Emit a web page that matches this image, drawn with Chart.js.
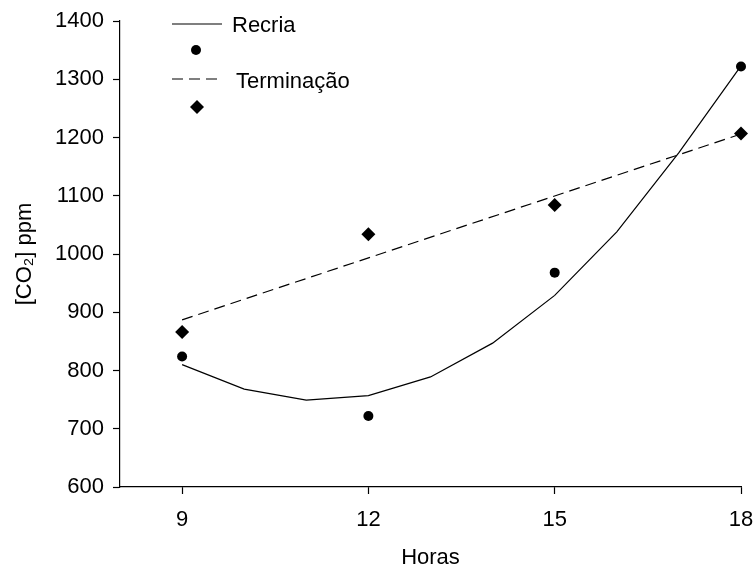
<!DOCTYPE html>
<html>
<head>
<meta charset="utf-8">
<title>CO2 ppm x Horas</title>
<script src="https://cdn.jsdelivr.net/npm/chart.js@4/dist/chart.umd.min.js"></script>
<style>
  html, body { margin: 0; padding: 0; background: #fff; }
  #wrap { width: 756px; height: 567px; position: relative; }
</style>
</head>
<body>
<div id="wrap"><canvas id="co2-chart"></canvas></div>
<script>
// --- data ---
const hours = [9, 12, 15, 18];
const recriaObs = [824, 722, 968, 1322];
const terminacaoObs = [866, 1034, 1084, 1207];

// fitted curve for Recria (one value per hour)
const curveHours = [9, 10, 11, 12, 13, 14, 15, 16, 17, 18];
const recriaFit = [810, 768, 749, 757, 789, 847, 929, 1038, 1174, 1323];

// fitted straight line for Terminação
const lineHours = [9, 18];
const terminacaoFit = [887, 1206];

const xTicks = [9, 12, 15, 18];
const yMin = 600, yMax = 1400, yStep = 100;

const FONT = "'Liberation Sans', Arial, Helvetica, sans-serif";
const INK = "#000";

const toPoints = (xs, ys) => xs.map((x, i) => ({ x: x, y: ys[i] }));

// legend drawn like the old SigmaPlot style: line row then symbol row
const stackedLegend = {
    id: "stackedLegend",
    afterDraw(chart) {
        const { ctx, chartArea } = chart;
        const l = chartArea.left, t = chartArea.top;
        ctx.save();
        ctx.strokeStyle = INK;
        ctx.fillStyle = INK;
        ctx.lineWidth = 1.2;

        // Recria line
        ctx.beginPath();
        ctx.moveTo(l + 52, t + 3);
        ctx.lineTo(l + 102, t + 3);
        ctx.stroke();

        // Recria symbol
        ctx.beginPath();
        ctx.arc(l + 76, t + 29, 5, 0, Math.PI * 2);
        ctx.fill();

        // Terminação dashed line
        ctx.setLineDash([11, 6]);
        ctx.beginPath();
        ctx.moveTo(l + 52, t + 58);
        ctx.lineTo(l + 102, t + 58);
        ctx.stroke();
        ctx.setLineDash([]);

        // Terminação symbol
        const dx = l + 77, dy = t + 86, r = 7;
        ctx.beginPath();
        ctx.moveTo(dx - r, dy);
        ctx.lineTo(dx, dy - r);
        ctx.lineTo(dx + r, dy);
        ctx.lineTo(dx, dy + r);
        ctx.closePath();
        ctx.fill();

        ctx.font = "22px " + FONT;
        ctx.textBaseline = "middle";
        ctx.textAlign = "left";
        ctx.fillText("Recria", l + 112, t + 5);
        ctx.fillText("Terminação", l + 116, t + 61);
        ctx.restore();
    }
};

const ctx = document.getElementById("co2-chart").getContext("2d");
const chart = new Chart(ctx, {
    type: "scatter",
    data: {
        datasets: [
            {
                label: "Recria",
                data: toPoints(curveHours, recriaFit),
                showLine: true,
                borderColor: INK,
                borderWidth: 1.2,
                pointRadius: 0,
                tension: 0,
                clip: false
            },
            {
                label: "Recria (obs)",
                data: toPoints(hours, recriaObs),
                pointStyle: "circle",
                pointRadius: 5,
                backgroundColor: INK,
                borderColor: INK,
                borderWidth: 0,
                clip: false
            },
            {
                label: "Terminação",
                data: toPoints(lineHours, terminacaoFit),
                showLine: true,
                borderColor: INK,
                borderWidth: 1.2,
                borderDash: [11, 6],
                pointRadius: 0,
                clip: false
            },
            {
                label: "Terminação (obs)",
                data: toPoints(hours, terminacaoObs),
                pointStyle: "rectRot",
                pointRadius: 7,
                backgroundColor: INK,
                borderColor: INK,
                borderWidth: 0,
                clip: false
            }
        ]
    },
    options: {
        responsive: true,
        maintainAspectRatio: false,
        animation: false,
        events: [],
        layout: { padding: { top: 21, right: 15, bottom: 0, left: 0 } },
        plugins: {
            legend: { display: false },
            tooltip: { enabled: false }
        },
        scales: {
            x: {
                type: "linear",
                min: 8,
                max: 18,
                afterBuildTicks: (scale) => {
                    scale.ticks = xTicks.map(v => ({ value: v }));
                },
                afterFit: (scale) => {
                    scale.height = 80;
                    // the edge labels fit inside the layout padding
                    scale.paddingLeft = 0;
                    scale.paddingRight = 0;
                },
                grid: {
                    display: true,
                    drawOnChartArea: false,
                    drawTicks: true,
                    tickLength: 7,
                    tickWidth: 1.2,
                    tickColor: INK
                },
                border: { display: true, color: INK, width: 1.2 },
                ticks: {
                    color: INK,
                    padding: 13,
                    maxRotation: 0,
                    font: { family: FONT, size: 22 }
                },
                title: {
                    display: true,
                    text: "Horas",
                    color: INK,
                    padding: { top: 0, bottom: -4 },
                    font: { family: FONT, size: 22 }
                }
            },
            y: {
                type: "linear",
                min: yMin,
                max: yMax,
                afterFit: (scale) => {
                    scale.width = 120;
                    scale.paddingTop = 0;
                    scale.paddingBottom = 0;
                },
                grid: {
                    display: true,
                    drawOnChartArea: false,
                    drawTicks: true,
                    tickLength: 7,
                    tickWidth: 1.2,
                    tickColor: INK
                },
                border: { display: true, color: INK, width: 1.2 },
                ticks: {
                    stepSize: yStep,
                    color: INK,
                    padding: 9,
                    font: { family: FONT, size: 22 },
                    callback: (value) => String(value)
                },
                title: {
                    display: true,
                    text: "[CO₂] ppm",
                    color: INK,
                    padding: { top: 12, bottom: 0 },
                    font: { family: FONT, size: 22 }
                }
            }
        }
    },
    plugins: [stackedLegend]
});
</script>
</body>
</html>
